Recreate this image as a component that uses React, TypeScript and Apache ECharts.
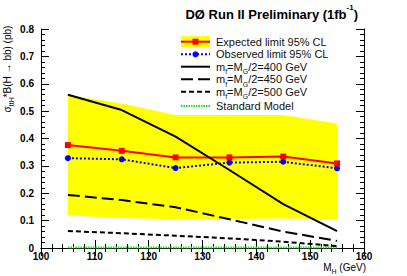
import React, { useEffect, useRef } from "react";
import * as echarts from "echarts";

const masses = [105, 115, 125, 135, 145, 155];
const expected = [0.376, 0.355, 0.331, 0.331, 0.334, 0.309];
const observed = [0.328, 0.324, 0.292, 0.312, 0.315, 0.291];
const bandUpper = [0.559, 0.528, 0.486, 0.486, 0.486, 0.455];
const bandLower = [0.12, 0.11, 0.105, 0.106, 0.108, 0.105];
const m400 = [0.56, 0.504, 0.407, 0.285, 0.16, 0.062];
const m450 = [0.194, 0.175, 0.149, 0.105, 0.06, 0.026];
const m500 = [0.062, 0.054, 0.045, 0.035, 0.023, 0.007];
const sm = [0.002, 0.002, 0.002, 0.002, 0.002, 0.002];

const legendLabels = [
  "Expected limit 95% CL",
  "Observed limit 95% CL",
  "m{sub|f}=M{sub|G}/2=400 GeV",
  "m{sub|f}=M{sub|G}/2=450 GeV",
  "m{sub|f}=M{sub|G}/2=500 GeV",
  "Standard Model",
];

const FONT = "'Liberation Sans', Arial, Helvetica, sans-serif";
const GREEN = "#22dd22";

const pairs = (ys: number[]) => masses.map((m, i) => [m, ys[i]]);

export default function App() {
  const ref = useRef<HTMLDivElement>(null);
  useEffect(() => {
    if (!ref.current) return;
    const chart = echarts.init(ref.current, undefined, { renderer: "svg" });
    const axisCommon = {
      axisLine: { show: true, lineStyle: { color: "#000", width: 1 } },
      axisTick: { show: true, inside: true, length: 8, lineStyle: { color: "#000" } },
      minorTick: { show: true, splitNumber: 5, length: 4, lineStyle: { color: "#000" } },
      splitLine: { show: false },
    };
    const legendY = [41.7, 54.3, 66.7, 79.3, 91.7, 106];
    const sx0 = 181, sx1 = 210, scx = 195.5;
    const rich = {
      sub: { fontSize: 7, fontFamily: FONT, fill: "#111", verticalAlign: "bottom", padding: [0, 0, -3, 0] },
    };
    const graphics: any[] = [
      { type: "rect", shape: { x: sx0, y: legendY[0] - 5.5, width: sx1 - sx0, height: 11 }, style: { fill: "#ffff00" } },
      { type: "line", shape: { x1: sx0, y1: legendY[0], x2: sx1, y2: legendY[0] }, style: { stroke: "#ff0000", lineWidth: 2 } },
      { type: "rect", shape: { x: scx - 3, y: legendY[0] - 3, width: 6, height: 6 }, style: { fill: "#ff0000" } },
      { type: "line", shape: { x1: sx0, y1: legendY[1], x2: sx1, y2: legendY[1] }, style: { stroke: "#0000ff", lineWidth: 2, lineDash: [2, 2] } },
      { type: "circle", shape: { cx: scx, cy: legendY[1], r: 3 }, style: { fill: "#0000ff" } },
      { type: "line", shape: { x1: sx0, y1: legendY[2], x2: sx1, y2: legendY[2] }, style: { stroke: "#000", lineWidth: 2 } },
      { type: "line", shape: { x1: sx0, y1: legendY[3], x2: sx1, y2: legendY[3] }, style: { stroke: "#000", lineWidth: 2, lineDash: [12, 5] } },
      { type: "line", shape: { x1: sx0, y1: legendY[4], x2: sx1, y2: legendY[4] }, style: { stroke: "#000", lineWidth: 2, lineDash: [5, 3] } },
      { type: "line", shape: { x1: sx0, y1: legendY[5], x2: sx1, y2: legendY[5] }, style: { stroke: GREEN, lineWidth: 2, lineDash: [1.5, 1] } },
    ];
    legendLabels.forEach((t, i) => {
      graphics.push({
        type: "text",
        x: 216,
        y: legendY[i],
        style: { text: t, font: `11px ${FONT}`, fill: "#111", verticalAlign: "middle", align: "left", rich },
      });
    });
    graphics.push({
      type: "text",
      x: 358,
      y: 14,
      style: {
        text: "DØ Run II Preliminary (1fb{sup|-1})",
        font: `bold 13px ${FONT}`,
        fill: "#000",
        align: "right",
        verticalAlign: "middle",
        rich: { sup: { fontSize: 8, fontWeight: "bold", fontFamily: FONT, fill: "#000", verticalAlign: "top", padding: [-4, 0, 0, 0] } },
      },
    });
    graphics.push({
      type: "text",
      x: 366,
      y: 267,
      style: {
        text: "M{sub|H} (GeV)",
        font: `10px ${FONT}`,
        fill: "#000",
        align: "right",
        verticalAlign: "middle",
        rich,
      },
    });
    graphics.push({
      type: "text",
      x: 7,
      y: 69,
      rotation: Math.PI / 2,
      style: {
        text: "σ{sub|ttH}*B(H → bb) (pb)",
        font: `10px ${FONT}`,
        fill: "#000",
        align: "center",
        verticalAlign: "middle",
        rich,
      },
    });

    const lineSeries = (name: string, ys: number[], color: string, width: number, type: any, z: number) => ({
      name,
      type: "line",
      data: pairs(ys),
      symbol: "none",
      lineStyle: { color, width, type },
      z,
    });

    chart.setOption({
      animation: false,
      backgroundColor: "#fff",
      grid: { left: 41, right: 43, top: 29, bottom: 28 },
      xAxis: [
        {
          type: "value",
          min: 100,
          max: 160,
          interval: 10,
          position: "bottom",
          ...axisCommon,
          axisLabel: { show: true, margin: 3, color: "#000", fontFamily: FONT, fontWeight: "bold", fontSize: 10 },
        },
        {
          type: "value",
          min: 100,
          max: 160,
          interval: 10,
          position: "top",
          ...axisCommon,
          axisLabel: { show: false },
        },
      ],
      yAxis: [
        {
          type: "value",
          min: 0,
          max: 0.8,
          interval: 0.1,
          position: "left",
          ...axisCommon,
          axisLabel: { show: true, margin: 7, color: "#000", fontFamily: FONT, fontWeight: "bold", fontSize: 10 },
        },
        {
          type: "value",
          min: 0,
          max: 0.8,
          interval: 0.1,
          position: "right",
          ...axisCommon,
          axisLabel: { show: false },
        },
      ],
      graphic: graphics,
      series: [
        {
          type: "custom",
          name: "band",
          data: [[masses[0], bandLower[0]]],
          z: 1,
          renderItem: (params: any, api: any) => {
            const pts: number[][] = [];
            masses.forEach((m, i) => pts.push(api.coord([m, bandUpper[i]])));
            for (let i = masses.length - 1; i >= 0; i--) pts.push(api.coord([masses[i], bandLower[i]]));
            return { type: "polygon", shape: { points: pts }, style: { fill: "#ffff00" } };
          },
        },
        lineSeries("Standard Model", sm, GREEN, 2, [1.5, 1], 2),
        lineSeries("500", m500, "#000", 2, [5, 3], 3),
        lineSeries("450", m450, "#000", 2, [12, 5], 3),
        {
          name: "Observed",
          type: "line",
          data: pairs(observed),
          symbol: "circle",
          symbolSize: 6,
          itemStyle: { color: "#0000ff" },
          lineStyle: { color: "#0000ff", width: 2, type: [2, 2] },
          z: 4,
        },
        {
          name: "Expected",
          type: "line",
          data: pairs(expected),
          symbol: "rect",
          symbolSize: 6,
          itemStyle: { color: "#ff0000" },
          lineStyle: { color: "#ff0000", width: 2 },
          z: 5,
        },
        lineSeries("400", m400, "#000", 2, "solid", 6),
      ],
    });
    return () => chart.dispose();
  }, []);
  return (
    <div
      ref={ref}
      style={{ position: "absolute", left: 0, top: 0, width: 407, height: 276, background: "#fff" }}
    />
  );
}
